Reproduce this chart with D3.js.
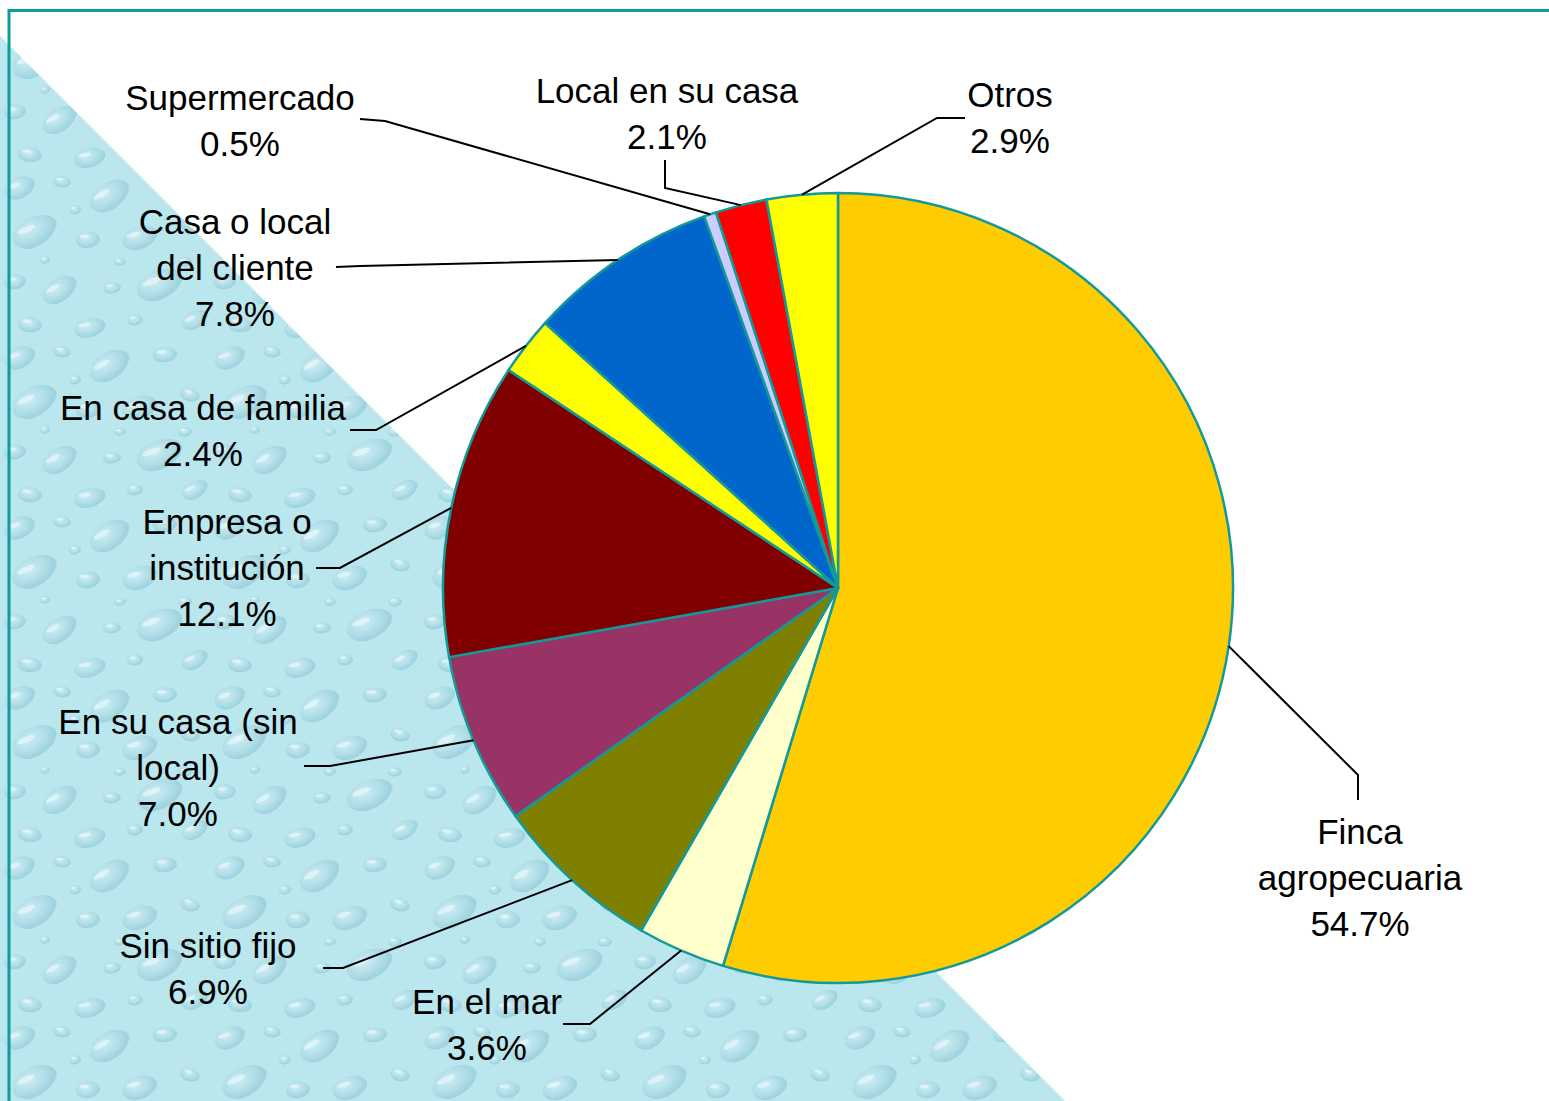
<!DOCTYPE html>
<html>
<head>
<meta charset="utf-8">
<script src="https://cdn.jsdelivr.net/npm/d3@7"></script>
<style>
  html, body { margin: 0; padding: 0; background: #fff; }
  svg { display: block; }
  .lbl { font-family: "Liberation Sans", Arial, sans-serif; font-size: 35px; fill: #000; }
</style>
</head>
<body>
<div id="chart-container"></div>
<script>
/* Pie chart: place of work distribution */

// data, clockwise from 12 o'clock
const categories = [
  "Finca agropecuaria", "En el mar", "Sin sitio fijo", "En su casa (sin local)",
  "Empresa o institución", "En casa de familia", "Casa o local del cliente",
  "Supermercado", "Local en su casa", "Otros"
];
const values = [54.7, 3.6, 6.9, 7.0, 12.1, 2.4, 7.8, 0.5, 2.1, 2.9];
// label text as it is wrapped on the chart
const labelLines = [
  ["Finca", "agropecuaria"], ["En el mar"], ["Sin sitio fijo"], ["En su casa (sin", "local)"],
  ["Empresa o", "institución"], ["En casa de familia"], ["Casa o local", "del cliente"],
  ["Supermercado"], ["Local en su casa"], ["Otros"]
];
const colors = ["#ffcc00", "#ffffcc", "#808000", "#993366", "#800000",
                "#ffff00", "#0066cc", "#ccccff", "#ff0000", "#ffff00"];

// label placement (text centre x, first baseline y, leader start, leader elbow)
const labelLayout = [
  { x: 1360, y: 844, p0: [1358, 800], p1: [1358, 775] },
  { x: 487, y: 1014, p0: [563, 1024], p1: [590, 1024] },
  { x: 208, y: 958, p0: [323, 968], p1: [343, 968] },
  { x: 178, y: 734, p0: [304, 766], p1: [330, 766] },
  { x: 227, y: 534, p0: [316, 568], p1: [340, 568] },
  { x: 203, y: 420, p0: [350, 430], p1: [376, 430] },
  { x: 235, y: 234, p0: [336, 267], p1: [360, 266] },
  { x: 240, y: 110, p0: [360, 119], p1: [385, 121] },
  { x: 667, y: 103, p0: [665, 160], p1: [665, 188] },
  { x: 1010, y: 107, p0: [965, 118], p1: [937, 118] }
];

const width = 1549, height = 1101;
const cx = 838, cy = 588, radius = 395;
const lineH = 46;

const svg = d3.select("#chart-container")
  .append("svg")
  .attr("width", width)
  .attr("height", height);

const defs = svg.append("defs");

// water drop texture
const grad = defs.append("radialGradient").attr("id", "drop")
  .attr("cx", "40%").attr("cy", "35%").attr("r", "65%");
grad.append("stop").attr("offset", "0%").attr("stop-color", "#d3eff5");
grad.append("stop").attr("offset", "55%").attr("stop-color", "#aedce6");
grad.append("stop").attr("offset", "90%").attr("stop-color", "#93cbd8");
grad.append("stop").attr("offset", "100%").attr("stop-color", "#c2e9f0");

const pat = defs.append("pattern").attr("id", "water")
  .attr("patternUnits", "userSpaceOnUse")
  .attr("width", 210).attr("height", 170);
pat.append("rect").attr("width", 210).attr("height", 170).attr("fill", "#bae6ee");
const drops = [
  [20, 18, 16, 11, -20], [62, 12, 9, 6, 10], [110, 26, 22, 14, -30], [165, 15, 12, 8, 0],
  [35, 62, 24, 15, -25], [88, 70, 12, 9, 0], [140, 68, 18, 12, -15], [190, 55, 10, 7, 20],
  [15, 112, 11, 8, 0], [60, 120, 19, 12, -30], [112, 118, 9, 6, 0], [160, 115, 24, 15, -20],
  [30, 155, 12, 8, 10], [90, 158, 16, 10, -10], [135, 150, 8, 6, 0], [195, 150, 14, 9, -25],
  [75, 40, 6, 5, 0], [185, 92, 7, 5, 0], [45, 90, 5, 4, 0], [120, 92, 6, 4, 0]
];
drops.forEach(([x, y, rx, ry, rot]) => {
  const dg = pat.append("g").attr("transform", `translate(${x},${y}) rotate(${rot})`);
  dg.append("ellipse")
    .attr("rx", rx).attr("ry", ry)
    .attr("fill", "url(#drop)").attr("opacity", 0.75);
  dg.append("ellipse")
    .attr("cx", -rx * 0.3).attr("cy", -ry * 0.4)
    .attr("rx", rx * 0.4).attr("ry", ry * 0.2)
    .attr("fill", "#eefafc").attr("opacity", 0.6);
});

// textured triangle in lower left
svg.append("path")
  .attr("d", "M0,36 L1065,1101 L0,1101 Z")
  .attr("fill", "url(#water)");

// frame
svg.append("path")
  .attr("d", `M9,${height} L9,10.5 L${width},10.5`)
  .attr("fill", "none")
  .attr("stroke", "#109c9c")
  .attr("stroke-width", 3);

const data = categories.map((c, i) => ({ name: c, value: values[i], i }));

const pie = d3.pie().sort(null).value((d) => d.value)
  .startAngle(0).endAngle(2 * Math.PI);
const arcs = pie(data);

const arc = d3.arc().innerRadius(0).outerRadius(radius);

const g = svg.append("g").attr("transform", `translate(${cx},${cy})`);
g.selectAll(".slice")
  .data(arcs)
  .join("path")
  .attr("class", "slice")
  .attr("d", arc)
  .attr("fill", (d) => colors[d.data.i])
  .attr("stroke", "#129999")
  .attr("stroke-width", 2.5)
  .attr("stroke-linejoin", "round");

// leader lines, ending at the middle of each slice's outer edge
const edge = (d) => {
  const a = (d.startAngle + d.endAngle) / 2;
  return [cx + radius * Math.sin(a), cy - radius * Math.cos(a)];
};

svg.append("g")
  .selectAll("path")
  .data(arcs)
  .join("path")
  .attr("d", (d) => {
    const l = labelLayout[d.data.i];
    return d3.line()([l.p0, l.p1, edge(d)]);
  })
  .attr("fill", "none")
  .attr("stroke", "#000")
  .attr("stroke-width", 2);

// labels
const labels = svg.append("g")
  .selectAll("text")
  .data(arcs)
  .join("text")
  .attr("class", "lbl")
  .attr("text-anchor", "middle")
  .attr("x", (d) => labelLayout[d.data.i].x)
  .attr("y", (d) => labelLayout[d.data.i].y);

labels.each(function (d) {
  const t = d3.select(this);
  const l = labelLayout[d.data.i];
  const lines = labelLines[d.data.i].concat([d.data.value.toFixed(1) + "%"]);
  lines.forEach((s, k) => {
    t.append("tspan").attr("x", l.x).attr("y", l.y + k * lineH).text(s);
  });
});
</script>
</body>
</html>
